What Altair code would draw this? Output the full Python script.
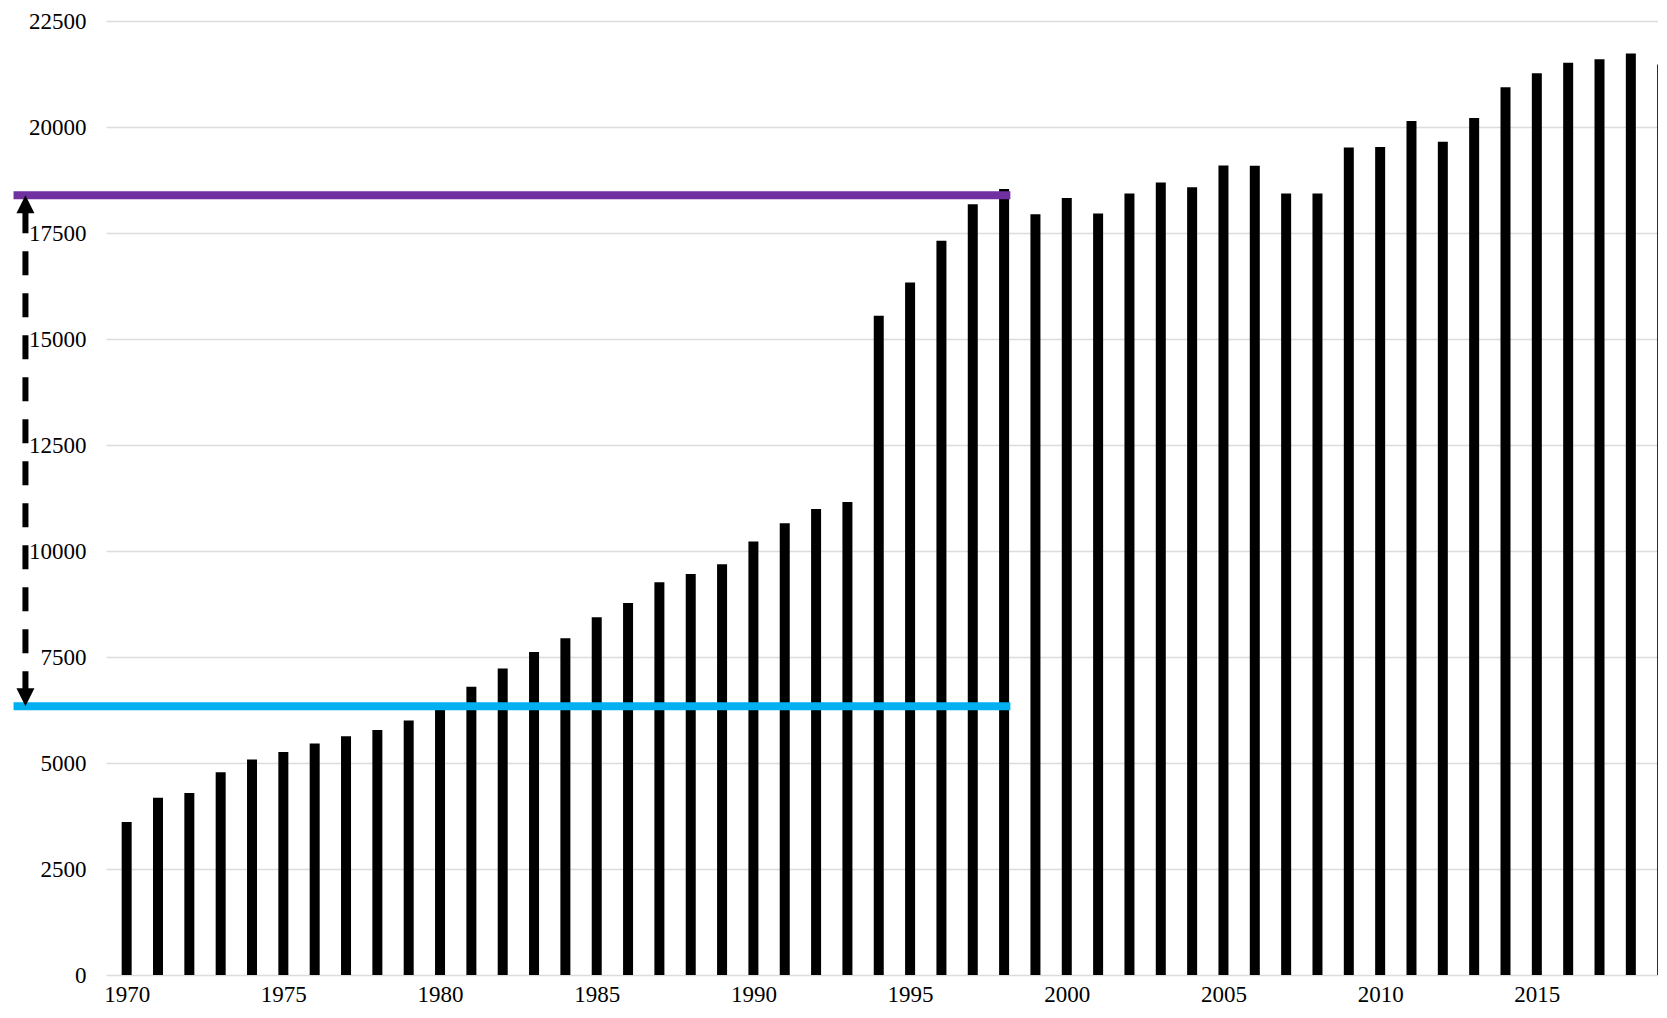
import altair as alt
import pandas as pd

# ---- data ----
years = list(range(1970, 2020))
values = [
    3610, 4180, 4290, 4780, 5080, 5260, 5460, 5630, 5780, 6000,   # 1970-1979
    6300, 6800, 7230, 7615, 7945, 8435, 8775, 9265, 9455, 9690,   # 1980-1989
    10225, 10655, 10990, 11155, 15550, 16335, 17320, 18180, 18540, 17940,  # 1990-1999
    18325, 17960, 18430, 18690, 18580, 19090, 19085, 18430, 18430, 19515,  # 2000-2009
    19530, 20140, 19650, 20210, 20935, 21265, 21515, 21600, 21735, 21475,  # 2010-2019
]
x_tick_years = [1970, 1975, 1980, 1985, 1990, 1995, 2000, 2005, 2010, 2015]
y_ticks = [0, 2500, 5000, 7500, 10000, 12500, 15000, 17500, 20000, 22500]

upper_level = 18390   # purple reference line
lower_level = 6340    # cyan reference line
line_start_year = 1966.39
line_end_year = 1998.2
arrow_year = 1966.77

FONT = "Liberation Serif"
X_DOMAIN = [1969.5, 2018.707]
Y_DOMAIN = [0, 22500]

df = pd.DataFrame({"year": years, "value": values})

xscale = alt.Scale(domain=X_DOMAIN, nice=False, zero=False)
yscale = alt.Scale(domain=Y_DOMAIN, nice=False)

bars = alt.Chart(df).mark_bar(color="black", size=10, clip=True).encode(
    x=alt.X("year:Q", scale=xscale,
            axis=alt.Axis(values=x_tick_years, format="d", grid=False, ticks=False,
                          tickSize=0, domain=False, labelFont=FONT, labelFontSize=23,
                          labelColor="black", labelPadding=8, labelFlush=False,
                          labelOverlap=False, title=None)),
    y=alt.Y("value:Q", scale=yscale,
            axis=alt.Axis(values=y_ticks, format="d", grid=True, gridColor="#dcdcdc",
                          gridWidth=1.4, ticks=False, tickSize=0, domain=False,
                          labelFont=FONT, labelFontSize=23, labelColor="black",
                          labelPadding=20, labelFlush=False, labelOverlap=False,
                          title=None)),
)

lines_df = pd.DataFrame({
    "x": [line_start_year, line_start_year],
    "x2": [line_end_year, line_end_year],
    "y": [upper_level, lower_level],
    "kind": ["upper", "lower"],
})

purple = alt.Chart(lines_df[lines_df.kind == "upper"]).mark_rule(
    color="#7030A0", strokeWidth=8).encode(
    x=alt.X("x:Q", scale=xscale), x2="x2:Q", y=alt.Y("y:Q", scale=yscale))

cyan = alt.Chart(lines_df[lines_df.kind == "lower"]).mark_rule(
    color="#00B0F0", strokeWidth=8).encode(
    x=alt.X("x:Q", scale=xscale), x2="x2:Q", y=alt.Y("y:Q", scale=yscale))

arrow_df = pd.DataFrame({"x": [arrow_year], "y": [upper_level], "y2": [lower_level]})

dashed = alt.Chart(arrow_df).mark_rule(
    color="black", strokeWidth=6, strokeDash=[24, 18], strokeDashOffset=28).encode(
    x=alt.X("x:Q", scale=xscale), y=alt.Y("y:Q", scale=yscale), y2="y2:Q")

head_up = alt.Chart(arrow_df).mark_point(
    shape="M0,0L1,2L-1,2Z", filled=True, color="black", size=324, opacity=1,
    strokeWidth=0).encode(
    x=alt.X("x:Q", scale=xscale), y=alt.Y("y:Q", scale=yscale))

head_down = alt.Chart(arrow_df).mark_point(
    shape="M0,0L1,-2L-1,-2Z", filled=True, color="black", size=324, opacity=1,
    strokeWidth=0).encode(
    x=alt.X("x:Q", scale=xscale), y=alt.Y("y2:Q", scale=yscale))

chart = alt.layer(bars, purple, cyan, dashed, head_up, head_down).properties(
    width=1552,
    height=954,
    autosize=alt.AutoSizeParams(type="none"),
    padding={"left": 98, "top": 13, "right": 0, "bottom": 31},
    background="white",
).configure_view(strokeWidth=0)

chart.save("out.html", embed_options={"renderer": "svg", "actions": False})
